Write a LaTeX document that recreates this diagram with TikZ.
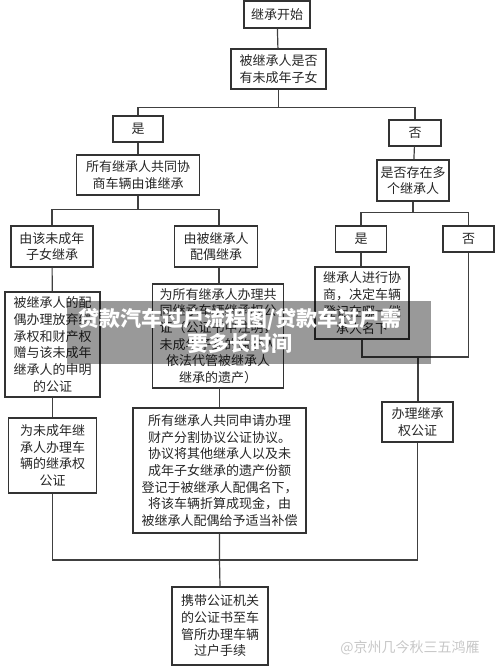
\documentclass[tikz,border=0pt]{standalone}
\usepackage{fontspec}
\newfontfamily\cjk{Noto Sans CJK SC}
\usetikzlibrary{calc}
\tikzset{
  box/.style={draw=black!80, line width=1.2pt, text=black!85, align=center,
    inner sep=0pt, font=\cjk\fontsize{13}{16.7}\selectfont},
  link/.style={draw=black!75, line width=1.2pt}
}

\begin{document}
\begin{tikzpicture}[x=1pt, y=-1pt]
		%%%%% START %%%%%
		\useasboundingbox (0,0) rectangle (500,666);
		
		\node[box, minimum width=66, minimum height=27] (start) at (277,14.5) {继承开始};
		\node[box, minimum width=95, minimum height=40] (minorq) at (278.5,69) {被继承人是否\\有未成年子女};
		
		\node[box, minimum width=50, minimum height=26] (yesA) at (138,129) {是};
		\node[box, minimum width=52, minimum height=26] (noA) at (415,133) {否};
		
		\node[box, minimum width=123, minimum height=40] (talk) at (138,175) {所有继承人共同协\\商车辆由谁继承};
		\node[box, minimum width=72, minimum height=41] (manyq) at (413,180.5) {是否存在多\\个继承人};
		
		\node[box, minimum width=82, minimum height=41] (child) at (52,246.5) {由该未成年\\子女继承};
		\node[box, minimum width=83, minimum height=41] (spouse) at (216,246.5) {由被继承人\\配偶继承};
		\node[box, minimum width=51, minimum height=26] (yesB) at (361,239) {是};
		\node[box, minimum width=51, minimum height=26] (noB) at (468.5,239) {否};
		
		\node[box, minimum width=95, minimum height=105] (waive) at (52.5,344.5) {被继承人的配\\偶办理放弃继\\承权和财产权\\赠与该未成年\\继承人的申明\\的公证};
		\node[box, minimum width=131, minimum height=104] (jointA) at (218,336) {为所有继承人办理共\\同继承车辆继承权公\\证（公证书中注明，\\未成年子女的监护人\\依法代管被继承人\\继承的遗产）};
		\node[box, minimum width=94, minimum height=72] (agree) at (362,303) {继承人进行协\\商，决定车辆\\登记在哪一继\\承人名下};
		
		\node[box, minimum width=88, minimum height=75] (minorcert) at (52.5,455.5) {为未成年继\\承人办理车\\辆的继承权\\公证};
		\node[box, minimum width=173, minimum height=125] (split) at (219.5,470.5) {所有继承人共同申请办理\\财产分割协议公证协议。\\协议将其他继承人以及未\\成年子女继承的遗产份额\\登记于被继承人配偶名下，\\将该车辆折算成现金，由\\被继承人配偶给予适当补偿};
		\node[box, minimum width=71, minimum height=40] (cert) at (417.5,422) {办理继承\\权公证};
		
		\node[box, minimum width=96, minimum height=78] (transfer) at (220,626) {携带公证机关\\的公证书至车\\管所办理车辆\\过户手续};
		
		\coordinate (rjoin) at (418,357);
		\coordinate (bjoin) at (220,560);
		
		\draw[link] (start) -- (minorq);
		\draw[link] (minorq.south) -- ++(0,18) -| (yesA.north);
		\draw[link] (minorq.south) -- ++(0,18) -| (noA.north);
		\draw[link] (yesA) -- (talk);
		\draw[link] (noA) -- (manyq);
		
		\draw[link] (talk.south) -- ++(0,14) -| (child.north);
		\draw[link] (talk.south) -- ++(0,14) -| ([xshift=3pt]spouse.north);
		\draw[link] (manyq.south) -- ++(0,10.5) -| (yesB.north);
		\draw[link] (manyq.south) -- ++(0,10.5) -| (noB.north);
		
		\draw[link] (child) -- (waive);
		\draw[link] ([xshift=3pt]spouse.south) -- ([xshift=3pt]spouse.south |- jointA.north);
		\draw[link] (yesB) -- (yesB |- agree.north);
		\draw[link] (agree.south) |- (rjoin) -| (noB.south);
		\draw[link] (rjoin) -- (rjoin |- cert.north);
		
		\draw[link] (waive) -- (minorcert);
		\draw[link] (jointA.south) -- (jointA.south -| split.north) -- (split.north);
		
		\draw[link] (minorcert.south) |- (bjoin) -| (cert.south);
		\draw[link] (split.south) -- (split.south |- bjoin) -- (transfer.north);
		
		\node[text=black!22, font=\cjk\fontsize{14}{14}\selectfont] (mark) at (410,648) {@京州几今秋三五鸿雁};
		
		\fill[black, opacity=0.4] (67,301) rectangle (431,364);
		\node[text=white, align=center, font=\cjk\bfseries\fontsize{21}{25}\selectfont] (title) at (240,331) {贷款汽车过户流程图/贷款车过户需\\要多长时间};
		
		%%%%% END %%%%%
	\end{tikzpicture}
\end{document}
